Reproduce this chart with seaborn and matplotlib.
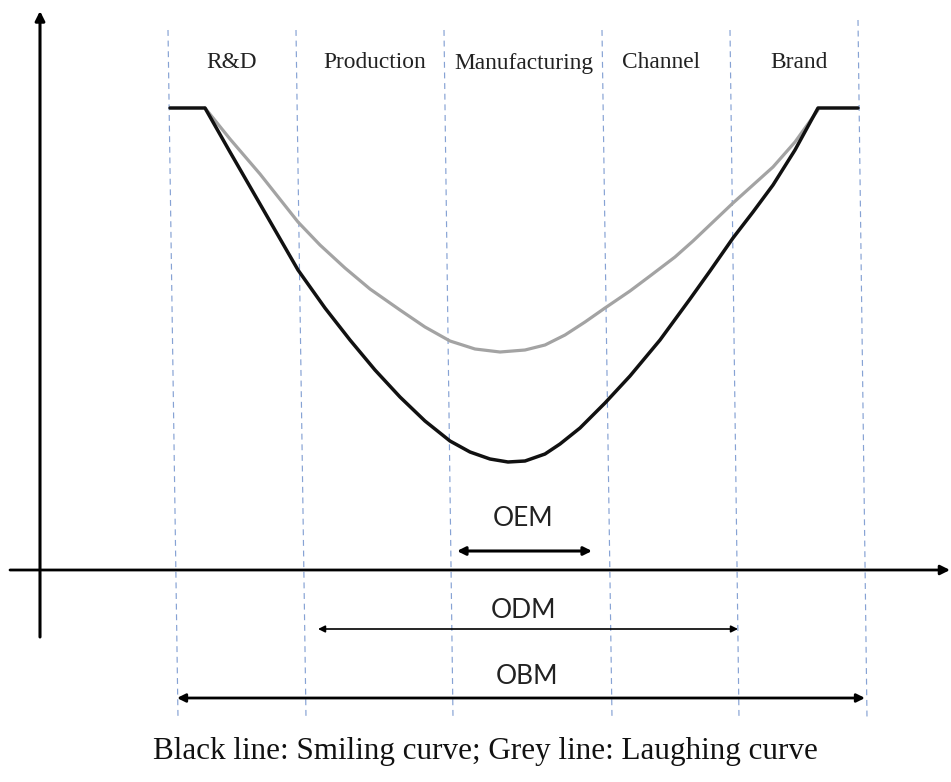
import matplotlib
matplotlib.use("Agg")
import matplotlib.pyplot as plt
import seaborn as sns
import pandas as pd

# ---- data (in picture coordinates) ----
stages = ["R&D", "Production", "Manufacturing", "Channel", "Brand"]
stage_centers = [232, 375, 524, 661, 799]
boundary_top = [168, 296, 444, 602, 730, 858]
boundary_bottom = [178, 306, 453, 612, 739, 867]

smile_x = [170, 205, 230, 260, 298, 325, 350, 375, 400, 425, 450, 470, 490, 508, 525,
           545, 560, 580, 605, 630, 660, 690, 710, 733, 753, 773, 795, 818, 858]
smile_y = [108, 108, 152, 204, 270, 308, 340, 370, 397, 421, 441, 452, 459, 462, 461,
           454, 444, 428, 403, 376, 340, 299, 271, 238, 212, 185, 150, 108, 108]

laugh_x = [205, 230, 260, 298, 320, 345, 370, 400, 425, 450, 475, 500, 525, 545, 565,
           585, 605, 630, 650, 675, 693, 713, 733, 753, 773, 795, 818]
laugh_y = [108, 139, 174, 222, 245, 268, 289, 310, 327, 341, 349, 352, 350, 345, 335,
           322, 308, 291, 276, 257, 241, 222, 203, 185, 167, 142, 110]

modes = ["OEM", "ODM", "OBM"]
mode_start = [457, 318, 177]
mode_end = [592, 738, 865]
mode_y = [551, 629, 698]
mode_label_y = [519, 610, 676]
mode_label_x = [523, 523, 527]
mode_lw = [2.2, 1.2, 2.0]

caption = "Black line: Smiling curve; Grey line: Laughing curve"

# ---- figure ----
sns.set_theme(style="white")
plt.rcParams['font.family'] = ['Liberation Serif', 'DejaVu Serif']

fig = plt.figure(figsize=(9.51, 7.82), dpi=100)
ax = fig.add_axes([0, 0, 1, 1])

# curves
df_smile = pd.DataFrame({"x": smile_x, "y": smile_y})
df_laugh = pd.DataFrame({"x": laugh_x, "y": laugh_y})
sns.lineplot(data=df_laugh, x="x", y="y", sort=False, color="#a3a3a3", lw=2.3, ax=ax, zorder=4)
sns.lineplot(data=df_smile, x="x", y="y", sort=False, color="#111111", lw=2.5, ax=ax, zorder=5)
ax.set_xlim(0, 951)
ax.set_ylim(782, 0)
ax.axis("off")

# dashed stage boundaries
for xt, xb in zip(boundary_top, boundary_bottom):
    ytop = 20 if xt == boundary_top[-1] else 30
    ax.plot([xt, xb], [ytop, 718], color="#86a2d4", lw=0.85, ls=(0, (5, 4)), zorder=1)

# axes arrows
ax.annotate("", xy=(950, 570), xytext=(10, 570),
            arrowprops=dict(arrowstyle="-|>", lw=2.0, color="black", mutation_scale=14,
                            shrinkA=0, shrinkB=0), zorder=3)
ax.annotate("", xy=(40, 11), xytext=(40, 637),
            arrowprops=dict(arrowstyle="-|>", lw=2.2, color="black", mutation_scale=14,
                            shrinkA=0, shrinkB=0), zorder=3)

# stage labels
for name, cx in zip(stages, stage_centers):
    ax.text(cx, 63, name, ha="center", va="center", fontsize=16.8,
            family=["Liberation Serif"], color="#222222")

# mode arrows
for name, x0, x1, y, lx, ly, lw in zip(modes, mode_start, mode_end, mode_y,
                                       mode_label_x, mode_label_y, mode_lw):
    ax.annotate("", xy=(x1, y), xytext=(x0, y),
                arrowprops=dict(arrowstyle="<|-|>", lw=lw, color="black",
                                mutation_scale=12 if lw > 1.5 else 10,
                                shrinkA=0, shrinkB=0), zorder=3)
    ax.text(lx, ly, name, ha="center", va="center", fontsize=19,
            family=["Lato", "DejaVu Sans"], color="#222222")

ax.text(485, 752, caption, ha="center", va="center", fontsize=22.4,
        family=["Liberation Serif"], color="#111111")

fig.savefig("out.png", dpi=100)
